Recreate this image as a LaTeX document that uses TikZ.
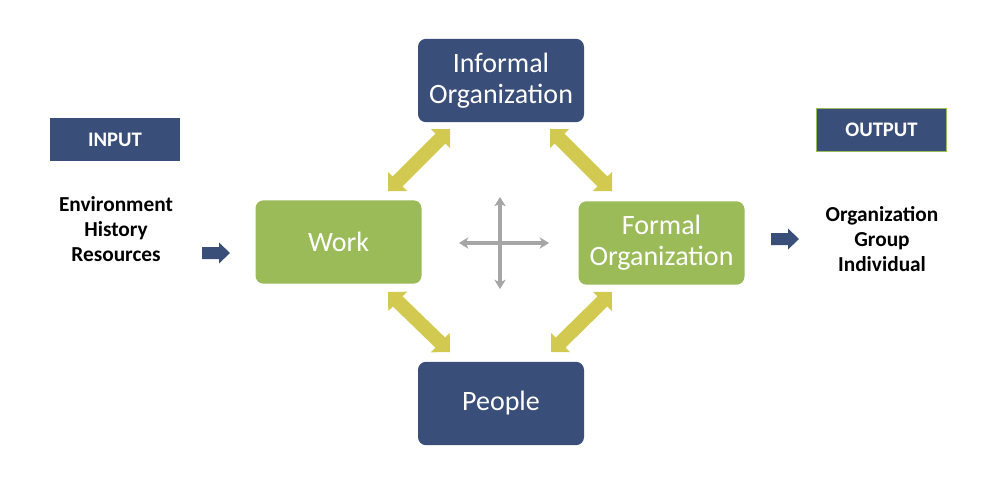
\documentclass[tikz,border=0pt]{standalone}
\usepackage{fontspec}
\setmainfont{Carlito}
\usetikzlibrary{calc,arrows.meta}
\definecolor{navy}{HTML}{3A4E7A}
\definecolor{leaf}{HTML}{9BBB59}
\definecolor{mustard}{HTML}{D2CA50}
\definecolor{crossgray}{HTML}{A6A6A6}
\tikzset{
  bigbox/.style={rounded corners=6pt, minimum width=124.5pt, minimum height=62.5pt,
    inner sep=0pt, text=white, align=center, font=\fontsize{21}{23.25}\selectfont},
  navybox/.style={bigbox, fill=navy},
  greenbox/.style={bigbox, fill=leaf},
  labelbox/.style={fill=navy, minimum width=98pt, minimum height=32.25pt, inner sep=0pt,
    text=white, font=\fontsize{15.5}{18}\selectfont\bfseries},
  listtext/.style={align=center, inner sep=0pt, font=\fontsize{16}{18.75}\selectfont\bfseries},
  crossarrow/.style={draw=crossgray, line width=2.6pt,
    {Stealth[length=7pt,width=8.5pt,inset=2pt]}-{Stealth[length=7pt,width=8.5pt,inset=2pt]}},
}
\newcommand{\dblyellow}[2]{%
  \fill[mustard] (#1)
    -- ($(#1)!14.32pt!45:(#2)$)
    -- ($(#1)!11.405pt!27.41:(#2)$)
    -- ($(#2)!11.405pt!-27.41:(#1)$)
    -- ($(#2)!14.32pt!-45:(#1)$)
    -- (#2)
    -- ($(#2)!14.32pt!45:(#1)$)
    -- ($(#2)!11.405pt!27.41:(#1)$)
    -- ($(#1)!11.405pt!-27.41:(#2)$)
    -- ($(#1)!14.32pt!-45:(#2)$)
    -- cycle;}
\newcommand{\navyarrow}[1]{%
  \fill[navy] (#1) ++(0,-6) -- ++(17,0) -- ++(0,-4.5) -- ++(11,10.5)
    -- ++(-11,10.5) -- ++(0,-4.5) -- ++(-17,0) -- cycle;}
\begin{document}
\begin{tikzpicture}[x=0.75pt,y=-0.75pt]
  \useasboundingbox (0,0) rectangle (1006,483);
  \fill[white] (0,0) rectangle (1006,483);
  % main boxes
  \node[navybox]  (inf)    at (501,80.5)  {Informal\\Organization};
  \node[greenbox] (work)   at (338.5,242) {Work};
  \node[greenbox] (formal) at (661.5,243) {Formal\\Organization};
  \node[navybox]  (people) at (501,403.5) {People};
  % input / output
  \node[labelbox] (input)  at (115,139.5) {INPUT};
  \node[labelbox, draw=leaf, line width=0.75pt] (output) at (881.5,129.5) {OUTPUT};
  \node[listtext] (intext)  at (116,229) {Environment\\History\\Resources};
  \node[listtext] (outtext) at (882,239) {Organization\\Group\\Individual};
  % yellow double arrows
  \coordinate (tl1) at (450,129);
  \coordinate (tl2) at (388,191);
  \coordinate (tr1) at (550,129);
  \coordinate (tr2) at (612,191);
  \coordinate (bl1) at (388,292);
  \coordinate (bl2) at (450,352);
  \coordinate (br1) at (612,292);
  \coordinate (br2) at (551,352);
  \dblyellow{tl1}{tl2}
  \dblyellow{tr1}{tr2}
  \dblyellow{bl1}{bl2}
  \dblyellow{br1}{br2}
  % navy block arrows
  \coordinate (inarrow)  at (202,253);
  \coordinate (outarrow) at (771,239);
  \navyarrow{inarrow}
  \navyarrow{outarrow}
  % gray cross
  \coordinate (ctop)    at (500,197);
  \coordinate (cbottom) at (500,289);
  \coordinate (cleft)   at (459,243);
  \coordinate (cright)  at (549,243);
  \draw[crossarrow] (ctop) -- (cbottom);
  \draw[crossarrow] (cleft) -- (cright);
\end{tikzpicture}
\end{document}
